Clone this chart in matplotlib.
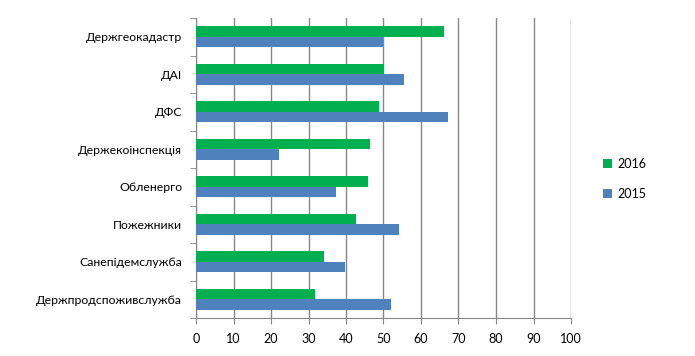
import numpy as np
import matplotlib
matplotlib.use("Agg")
import matplotlib.pyplot as plt

plt.rcParams['font.family'] = ['Lato', 'DejaVu Sans']

categories = ['Держгеокадастр', 'ДАІ', 'ДФС', 'Держекоінспекція',
              'Обленерго', 'Пожежники', 'Санепідемслужба', 'Держпродспоживслужба']
values_2016 = [66.2, 50.1, 48.9, 46.5, 45.9, 42.7, 34.1, 31.8]
values_2015 = [50.0, 55.5, 67.3, 22.1, 37.4, 54.1, 39.8, 52.1]
x_ticks = [0, 10, 20, 30, 40, 50, 60, 70, 80, 90, 100]

green = '#00B050'
blue = '#4F81BD'
grid_col = '#878787'

fig = plt.figure(figsize=(6.95, 3.56), dpi=100)
ax = fig.add_axes([196 / 695, 1 - 318 / 356, 375 / 695, 300 / 356])

y = np.arange(len(categories))[::-1]
h = 0.285
ax.barh(y + h / 2, values_2016, height=h, color=green, label='2016', zorder=3)
ax.barh(y - h / 2, values_2015, height=h, color=blue, label='2015', zorder=3)

ax.set_xlim(0, 100)
ax.set_ylim(-0.5, len(categories) - 0.5)
ax.set_xticks(x_ticks)
ax.set_xticklabels([str(t) for t in x_ticks], fontsize=9)
ax.set_yticks(y)
ax.set_yticklabels(categories, fontsize=8.8)
ax.tick_params(axis='y', length=0, pad=10)
ax.set_yticks(np.arange(-0.5, len(categories), 1), minor=True)
ax.tick_params(axis='y', which='minor', length=4, color=grid_col)
ax.tick_params(axis='x', length=4, color=grid_col, pad=7)

ax.grid(axis='x', color=grid_col, linewidth=1, zorder=0)
for s in ['top', 'right']:
    ax.spines[s].set_visible(False)
for s in ['left', 'bottom']:
    ax.spines[s].set_color(grid_col)

handles, labels = ax.get_legend_handles_labels()
fig.legend(handles, labels, loc='center left', bbox_to_anchor=(592 / 695, 1 - 179 / 356),
           frameon=False, fontsize=9, handlelength=0.7, handleheight=0.7,
           labelspacing=1.4, handletextpad=0.4)

fig.savefig('out.png', dpi=100)
